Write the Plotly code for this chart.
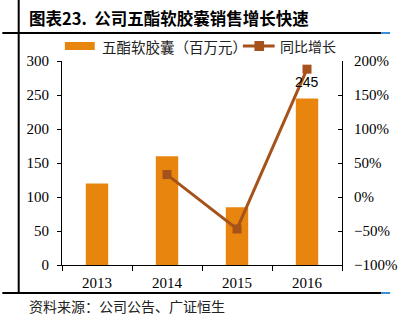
import plotly.graph_objects as go

# Data
years = ["2013", "2014", "2015", "2016"]
sales = [120, 160, 85, 245]          # 五酯软胶囊（百万元）
growth = [None, 33, -47, 188]        # 同比增长 (%)
bar_label_year = "2016"
bar_label_value = 245

bar_name = "五酯软胶囊（百万元）"
line_name = "同比增长"
title_text = "图表23.\u00a0\u00a0公司五酯软胶囊销售增长快速"
source_text = "资料来源：公司公告、广证恒生"

W, H = 409, 331
L, R, T, B = 62, 353, 61, 265

BAR_COLOR = "#E8850F"
LINE_COLOR = "#A5521B"
CJK = "Noto Sans CJK SC"
SERIF = "Liberation Serif"


def px(x):
    return (x - L) / (R - L)


def py(y):
    return (B - y) / (B - T)


fig = go.Figure()
fig.add_trace(go.Bar(
    x=years, y=sales, name=bar_name, marker=dict(color=BAR_COLOR, line=dict(width=0)),
    yaxis="y", showlegend=False,
))
fig.add_trace(go.Scatter(
    x=years, y=growth, name=line_name, mode="lines+markers", yaxis="y2",
    line=dict(color=LINE_COLOR, width=3),
    marker=dict(symbol="square", size=9, color=LINE_COLOR),
    showlegend=False,
))

shapes = []
annotations = []

# Frame lines
for yy in (33, 293):
    shapes.append(dict(type="line", xref="paper", yref="paper", x0=px(0), x1=px(394),
                       y0=py(yy), y1=py(yy), line=dict(color="black", width=2)))
    shapes.append(dict(type="line", xref="paper", yref="paper", x0=px(394), x1=px(403),
                       y0=py(yy), y1=py(yy), line=dict(color="#3A8FDB", width=2)))
shapes.append(dict(type="line", xref="paper", yref="paper", x0=px(17), x1=px(17),
                   y0=py(0), y1=py(293), line=dict(color="black", width=2)))

# Legend
shapes.append(dict(type="rect", xref="paper", yref="paper", x0=px(65), x1=px(96),
                   y0=py(50), y1=py(42), fillcolor=BAR_COLOR, line=dict(width=0)))
shapes.append(dict(type="line", xref="paper", yref="paper", x0=px(250), x1=px(283),
                   y0=py(46), y1=py(46), line=dict(color=LINE_COLOR, width=3)))
shapes.append(dict(type="rect", xref="paper", yref="paper", x0=px(262), x1=px(272),
                   y0=py(51), y1=py(41), fillcolor=LINE_COLOR, line=dict(width=0)))
annotations.append(dict(text=bar_name, xref="paper", yref="paper", x=px(101), y=py(46),
                        xanchor="left", yanchor="middle", showarrow=False,
                        font=dict(family=CJK, size=14.5, color="#222")))
annotations.append(dict(text=line_name, xref="paper", yref="paper", x=px(287), y=py(46),
                        xanchor="left", yanchor="middle", showarrow=False,
                        font=dict(family=CJK, size=14, color="#222")))

# Title and source
annotations.append(dict(text="<b>" + title_text + "</b>", xref="paper", yref="paper",
                        x=px(26), y=py(18), xanchor="left", yanchor="middle", showarrow=False,
                        font=dict(family=CJK, size=16.5, color="black")))
annotations.append(dict(text=source_text, xref="paper", yref="paper",
                        x=px(26), y=py(306), xanchor="left", yanchor="middle", showarrow=False,
                        font=dict(family=CJK, size=14, color="#222")))

# Bar value label (category index on the x axis)
annotations.append(dict(text=str(bar_label_value), x=years.index(bar_label_year),
                        y=bar_label_value, xref="x", yref="y", showarrow=False,
                        yanchor="middle", yshift=16,
                        font=dict(family="Liberation Sans", size=14, color="black")))

fig.update_layout(
    width=W, height=H,
    margin=dict(l=L, r=W - R, t=T, b=H - B),
    paper_bgcolor="white", plot_bgcolor="white",
    bargap=0.68,
    shapes=shapes, annotations=annotations,
    xaxis=dict(type="category", range=[-0.5, len(years) - 0.5], tickson="boundaries",
               ticks="outside", ticklen=5,
               tickcolor="black", showline=True, linecolor="black", linewidth=1,
               showgrid=False, tickfont=dict(family=SERIF, size=15, color="black"),
               ticklabelstandoff=4),
    yaxis=dict(range=[0, 300], dtick=50, ticks="outside", ticklen=4, tickcolor="black",
               showline=True, linecolor="black", linewidth=1, showgrid=False, zeroline=False,
               tickfont=dict(family=SERIF, size=15, color="black"), ticklabelstandoff=5),
    yaxis2=dict(range=[-100, 200], dtick=50, overlaying="y", side="right",
                ticks="inside", ticklen=4, tickcolor="black", ticksuffix="%",
                showline=True, linecolor="black", linewidth=1, showgrid=False, zeroline=False,
                tickfont=dict(family=SERIF, size=15, color="black"), ticklabelstandoff=8),
)

fig.write_html("out.html")
